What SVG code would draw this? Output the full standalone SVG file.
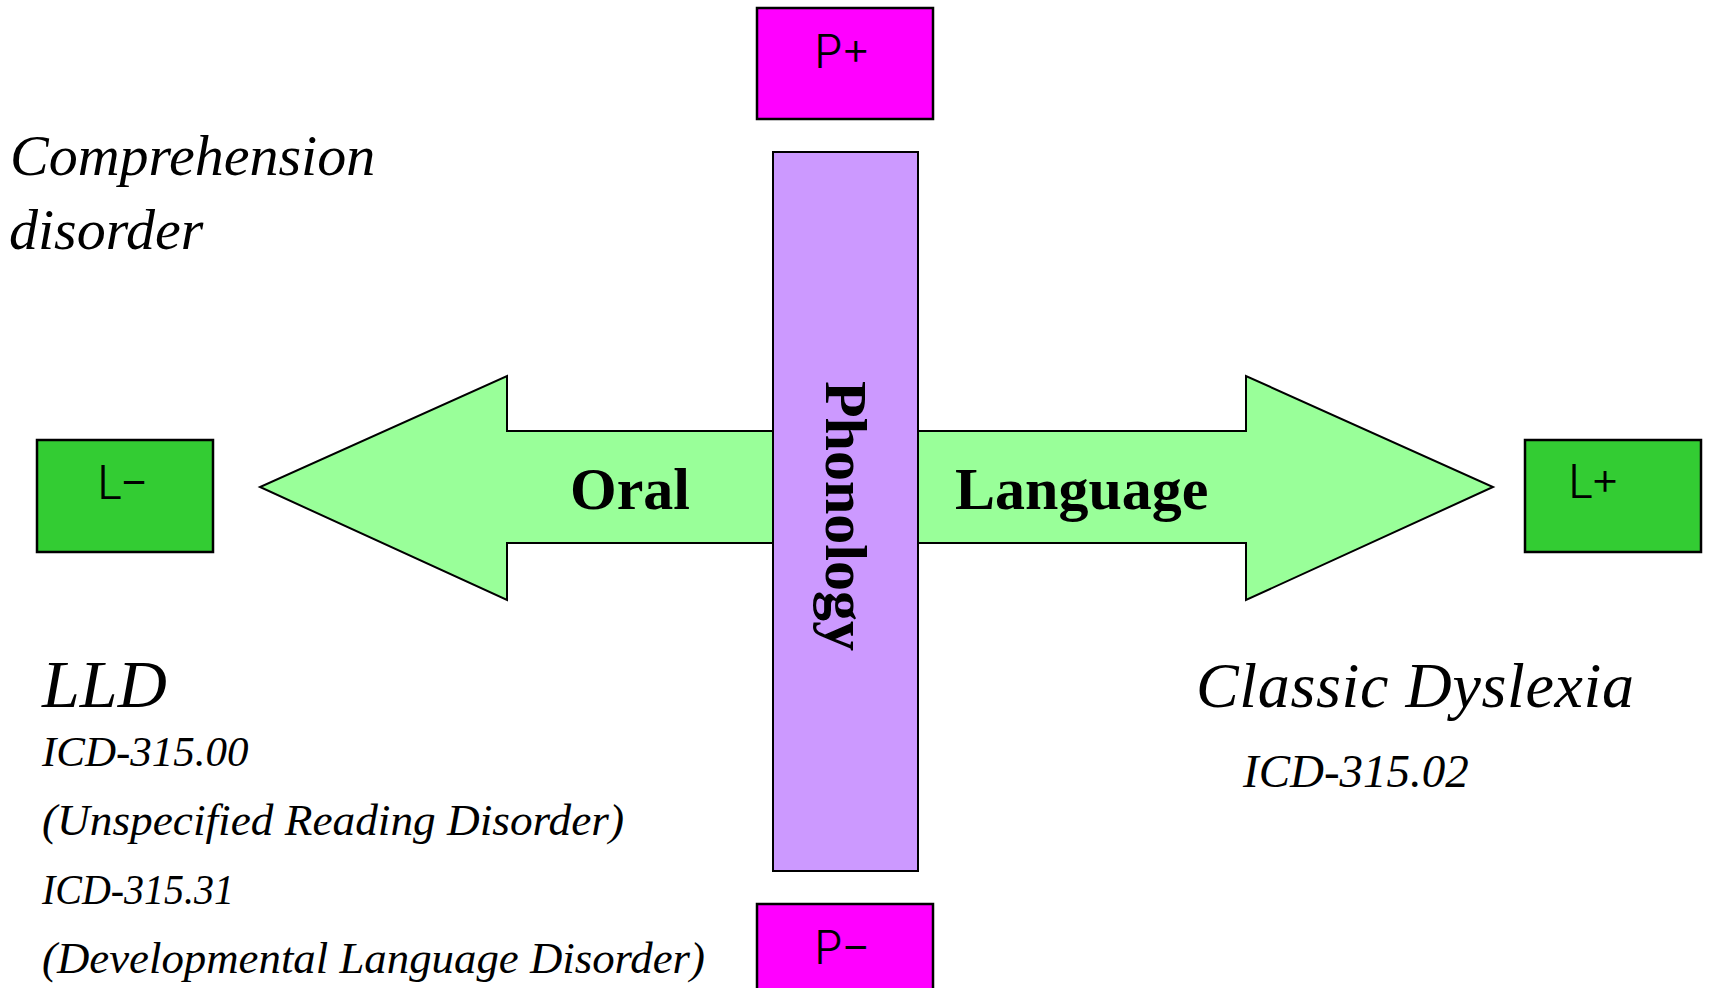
<svg xmlns="http://www.w3.org/2000/svg" width="1723" height="988" viewBox="0 0 1723 988">
  <style>
    .box { stroke: #000; stroke-width: 2.5; }
    .pbox { fill: #ff00ff; }
    .lbox { fill: #33cc33; }
    .axis { fill: #cc99ff; stroke: #000; stroke-width: 2; }
    .arrow { fill: #99ff99; stroke: #000; stroke-width: 2; stroke-linejoin: miter; }
    .tag { font-family: Inter, "Liberation Sans", sans-serif; font-weight: 300; font-size: 46px; fill: #000; }
    .bold { font-family: "Liberation Serif", serif; font-weight: bold; font-size: 60px; fill: #000; }
    .note { font-family: "Liberation Serif", serif; font-style: italic; fill: #000; }
  </style>

  <!-- horizontal arrows (drawn first so the vertical bar sits on top) -->
  <g id="connectors">
    <polygon id="arrow-oral" class="arrow" points="845,431 507,431 507,376 260,487 507,600 507,543 845,543"/>
    <polygon id="arrow-language" class="arrow" points="845,431 1246,431 1246,376 1493,487 1246,600 1246,543 845,543"/>
  </g>

  <!-- vertical phonology bar -->
  <g id="phonology">
    <rect class="axis" x="773" y="152" width="145" height="719"/>
    <text class="bold" font-size="66" text-anchor="middle" transform="translate(826,516) rotate(90)">Phonology</text>
  </g>

  <g id="label-oral">
    <text class="bold" x="570" y="509">Oral</text>
  </g>
  <g id="label-language">
    <text class="bold" x="955" y="509">Language</text>
  </g>

  <!-- pole boxes -->
  <g id="p-plus">
    <rect class="box pbox" x="757" y="8" width="176" height="111"/>
    <text class="tag" x="814" y="68">P+</text>
  </g>
  <g id="p-minus">
    <rect class="box pbox" x="757" y="904" width="176" height="100"/>
    <text class="tag" x="814" y="964">P−</text>
  </g>
  <g id="l-minus">
    <rect class="box lbox" x="37" y="440" width="176" height="112"/>
    <text class="tag" x="97" y="499">L−</text>
  </g>
  <g id="l-plus">
    <rect class="box lbox" x="1525" y="440" width="176" height="112"/>
    <text class="tag" x="1568" y="498">L+</text>
  </g>

  <!-- quadrant notes -->
  <g id="comprehension">
    <text class="note" font-size="58" x="10" y="175">Comprehension</text>
    <text class="note" font-size="58" x="9" y="249">disorder</text>
  </g>
  <g id="lld">
    <text class="note" font-size="68" x="42" y="707">LLD</text>
    <text class="note" font-size="43" x="42" y="766">ICD-315.00</text>
    <text class="note" font-size="45" x="42" y="835" textLength="582" lengthAdjust="spacingAndGlyphs">(Unspecified Reading Disorder)</text>
    <text class="note" font-size="43" x="42" y="904" textLength="192" lengthAdjust="spacingAndGlyphs">ICD-315.31</text>
    <text class="note" font-size="45" x="42" y="973" textLength="663" lengthAdjust="spacingAndGlyphs">(Developmental Language Disorder)</text>
  </g>
  <g id="classic-dyslexia">
    <text class="note" font-size="64" x="1196" y="707" textLength="438" lengthAdjust="spacing">Classic Dyslexia</text>
    <text class="note" font-size="47" x="1243" y="787">ICD-315.02</text>
  </g>
</svg>
